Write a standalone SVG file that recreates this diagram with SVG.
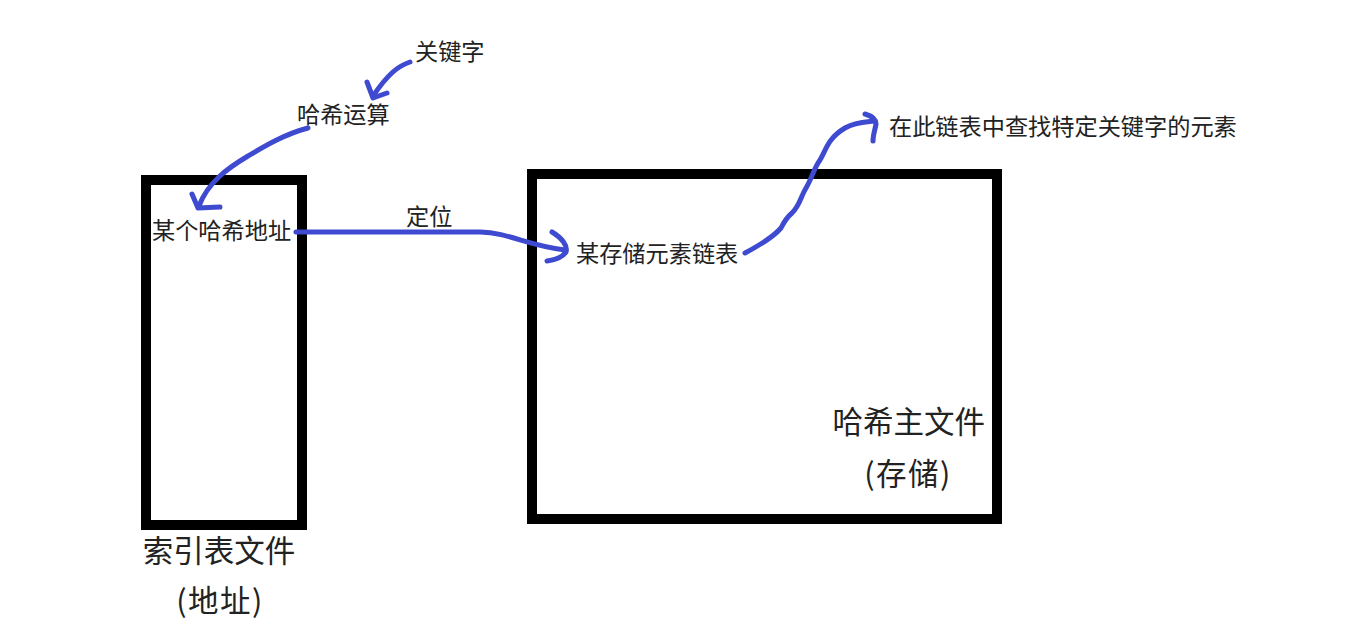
<svg xmlns="http://www.w3.org/2000/svg" width="1350" height="629" viewBox="0 0 1350 629">
<style>
.box{fill:none;stroke:#000;stroke-width:10}
.t{font-family:"Noto Sans CJK SC","Noto Sans",sans-serif;fill:#222}
.s{font-size:23.2px}
.l{font-size:30.5px}
.p{letter-spacing:1.5px}
.c{fill:none;stroke:#3e4bd0;stroke-width:5;stroke-linecap:round;stroke-linejoin:round}
</style>
<rect width="1350" height="629" fill="#fff"/>
<g id="index-file">
<rect class="box" x="146" y="180" width="156" height="345"/>
<text class="t s" x="152" y="239">某个哈希地址</text>
<text class="t l" x="219" y="562" text-anchor="middle">索引表文件</text>
<text class="t l p" x="220" y="612" text-anchor="middle">(地址)</text>
</g>
<g id="main-file">
<rect class="box" x="532" y="174" width="465" height="345"/>
<text class="t s" x="576" y="262">某存储元素链表</text>
<text class="t l" x="985" y="433" text-anchor="end">哈希主文件</text>
<text class="t l p" x="908" y="485" text-anchor="middle">(存储)</text>
</g>
<g id="key"><text class="t s" x="415" y="60">关键字</text></g>
<g id="hash-op"><text class="t s" x="297" y="123">哈希运算</text></g>
<g id="locate"><text class="t s" x="406" y="225">定位</text></g>
<g id="search"><text class="t s" x="889" y="135">在此链表中查找特定关键字的元素</text></g>
<g id="connectors">
<path class="c" d="M410,62 C398,66 388,74 373,96"/>
<path class="c" d="M367,82 L373,98 L387,93"/>
<path class="c" d="M308,128 C285,134 265,146 248,156 C228,168 208,182 199,206"/>
<path class="c" d="M192,194 L198,208 L220,207"/>
<path class="c" d="M296,232 L480,232 C510,233 525,245 565,250"/>
<path class="c" d="M552,232 C562,238 568,246 566,252 C562,258 555,260 547,261"/>
<path class="c" d="M745,253 C760,245 775,235 781,228 C784,222 786,218 792,213 C800,205 800,198 806,188 C812,178 814,168 820,160 C826,150 828,138 845,128 C855,122 865,122 874,121"/>
<path class="c" d="M865,114 C872,116 876,119 876,124 C875,130 873,135 873,141"/>
</g>
</svg>
